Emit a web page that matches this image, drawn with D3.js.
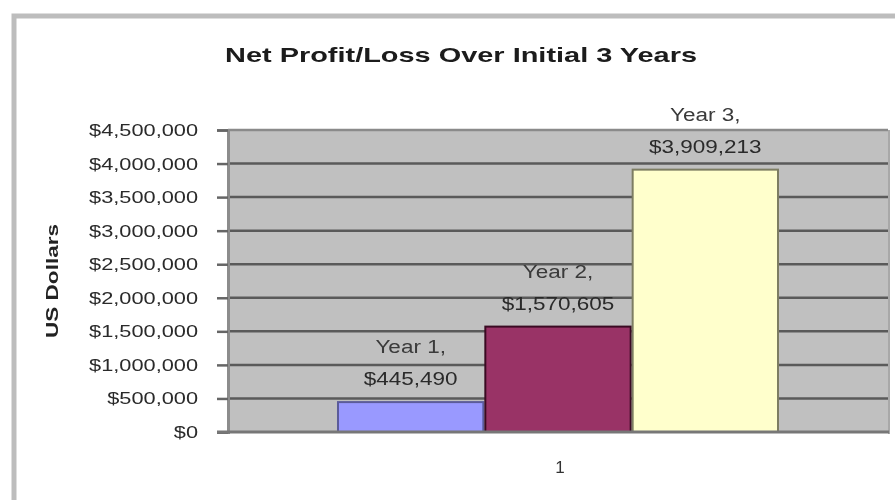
<!DOCTYPE html>
<html>
<head>
<meta charset="utf-8">
<script src="https://cdn.jsdelivr.net/npm/d3@7"></script>
<style>
  html, body { margin: 0; padding: 0; background: #fff; }
  svg { display: block; font-family: "Liberation Sans", Arial, sans-serif; }
</style>
</head>
<body>
<svg id="chart" width="895" height="500"></svg>
<script>
// ---- data ----
const chartTitle = "Net Profit/Loss Over Initial 3 Years";
const yAxisTitle = "US Dollars";
const categories = ["1"];
const seriesNames = ["Year 1", "Year 2", "Year 3"];
const seriesValues = [445490, 1570605, 3909213];
const seriesColors = ["#9999FF", "#993366", "#FFFFCC"];
const seriesStrokes = ["#5b5b9a", "#3a0a22", "#7d7d62"];
const yTicks = [0, 500000, 1000000, 1500000, 2000000, 2500000, 3000000, 3500000, 4000000, 4500000];
const yMax = 4500000;

const svg = d3.select("#chart");
const defs = svg.append("defs");
defs.append("filter").attr("id", "soft")
  .append("feGaussianBlur").attr("stdDeviation", 0.6);

const plot = { left: 228, right: 888, top: 130, bottom: 432 };

// outer chart border
svg.append("rect")
  .attr("x", 14).attr("y", 16).attr("width", 1000).attr("height", 600)
  .attr("fill", "none").attr("stroke", "#bdbdbd").attr("stroke-width", 5);

const x0 = d3.scaleBand().domain(categories)
  .range([plot.left, plot.right]).paddingOuter(0.2466).paddingInner(0);
const x1 = d3.scaleBand().domain(seriesNames).range([0, x0.bandwidth()]).padding(0);
const y = d3.scaleLinear().domain([0, yMax]).range([plot.bottom, plot.top]);

// plot background
svg.append("rect")
  .attr("x", plot.left).attr("y", plot.top)
  .attr("width", plot.right - plot.left).attr("height", plot.bottom - plot.top)
  .attr("fill", "#C0C0C0");

// gridlines
svg.append("g").selectAll("line").data(yTicks.filter(d => d > 0)).join("line")
  .attr("x1", plot.left).attr("x2", plot.right)
  .attr("y1", d => y(d)).attr("y2", d => y(d))
  .attr("stroke", d => d === yMax ? "#8a8a8a" : "#5a5a5a").attr("stroke-width", 2.5);

// right border of plot
svg.append("line").attr("x1", plot.right + 1).attr("x2", plot.right + 1)
  .attr("y1", plot.top).attr("y2", plot.bottom + 2)
  .attr("stroke", "#a8a8a8").attr("stroke-width", 2);

// bars
const dataRows = seriesNames.map((n, i) => ({ name: n, value: seriesValues[i], color: seriesColors[i], stroke: seriesStrokes[i] }));
const g = svg.append("g").attr("transform", `translate(${x0(categories[0])},0)`);
g.selectAll("rect").data(dataRows).join("rect")
  .attr("x", d => x1(d.name) + 1)
  .attr("y", d => y(d.value))
  .attr("width", x1.bandwidth() - 2)
  .attr("height", d => y(0) - y(d.value))
  .attr("fill", d => d.color)
  .attr("stroke", d => d.stroke).attr("stroke-width", 2);

// y axis
const yAxis = d3.axisLeft(y).tickValues(yTicks)
  .tickFormat(d => "$" + d3.format(",")(d))
  .tickSize(11).tickPadding(19);
const ya = svg.append("g").attr("transform", `translate(${plot.left},0)`).call(yAxis);
ya.select(".domain").attr("stroke", "#8c8c8c").attr("stroke-width", 3);
ya.selectAll(".tick line").attr("stroke", "#666").attr("stroke-width", 2.5);
ya.selectAll(".tick text")
  .attr("font-size", 17).attr("fill", "#2a2a2a").attr("font-family", "Liberation Sans, Arial")
  .attr("filter", "url(#soft)")
  .each(function () {
    const w = this.getComputedTextLength();
    d3.select(this).attr("textLength", w * 1.28).attr("lengthAdjust", "spacingAndGlyphs");
  });

// x axis baseline
svg.append("line").attr("x1", plot.left - 11).attr("x2", plot.right + 1)
  .attr("y1", plot.bottom).attr("y2", plot.bottom)
  .attr("stroke", "#777").attr("stroke-width", 3);

// category label
svg.append("text").attr("x", x0(categories[0]) + x0.bandwidth() / 2 + 2).attr("y", 473)
  .attr("text-anchor", "middle").attr("font-size", 17).attr("fill", "#333")
  .attr("filter", "url(#soft)").text(categories[0]);

// data labels
const fmt = d => "$" + d3.format(",")(d);
const lab = g.selectAll("g.lab").data(dataRows).join("g").attr("class", "lab");
lab.append("text")
  .attr("x", d => x1(d.name) + x1.bandwidth() / 2)
  .attr("y", d => y(d.value) - 49)
  .attr("text-anchor", "middle").attr("font-size", 18).attr("fill", "#3a3a3a")
  .attr("filter", "url(#soft)")
  .text(d => d.name + ",");
lab.append("text")
  .attr("x", d => x1(d.name) + x1.bandwidth() / 2)
  .attr("y", d => y(d.value) - 17)
  .attr("text-anchor", "middle").attr("font-size", 18).attr("fill", "#2a2a2a")
  .attr("filter", "url(#soft)")
  .text(d => fmt(d.value));
lab.selectAll("text").each(function () {
  const w = this.getComputedTextLength();
  d3.select(this).attr("textLength", w * 1.25).attr("lengthAdjust", "spacingAndGlyphs");
});

// title
svg.append("text").attr("x", 461).attr("y", 62)
  .attr("text-anchor", "middle").attr("font-size", 21).attr("font-weight", "bold")
  .attr("fill", "#1a1a1a").attr("filter", "url(#soft)")
  .attr("textLength", 472).attr("lengthAdjust", "spacingAndGlyphs")
  .text(chartTitle);

// y axis title
svg.append("text").attr("transform", "translate(58,281) rotate(-90)")
  .attr("text-anchor", "middle").attr("font-size", 17).attr("font-weight", "bold")
  .attr("fill", "#222").attr("filter", "url(#soft)")
  .attr("textLength", 114).attr("lengthAdjust", "spacingAndGlyphs")
  .text(yAxisTitle);
</script>
</body>
</html>
